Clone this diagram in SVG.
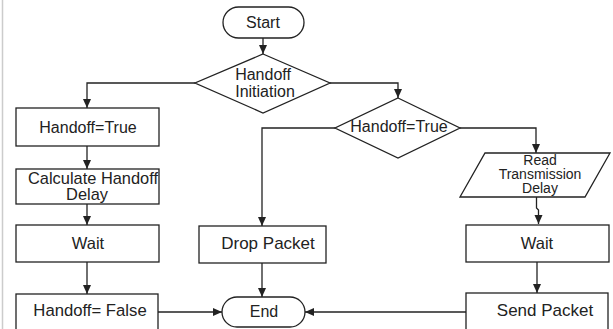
<svg xmlns="http://www.w3.org/2000/svg" width="613" height="329" viewBox="0 0 613 329">
<style>
.n{fill:#fff;stroke:#222;stroke-width:1.3}
.c{fill:none;stroke:#222;stroke-width:1.3}
text{font-family:"Liberation Sans",Arial,sans-serif;fill:#222;text-anchor:middle}
</style>
<defs>
<marker id="a" markerUnits="userSpaceOnUse" markerWidth="9" markerHeight="9" viewBox="0 0 9 9" refX="9" refY="4.5" orient="auto">
<path d="M0,0.5 L9,4.5 L0,8.5 Z" fill="#222"/>
</marker>
</defs>
<rect width="613" height="329" fill="#fff"/>
<line x1="2.5" y1="0" x2="2.5" y2="329" stroke="#ccc" stroke-width="1.5"/>
<g id="connectors">
<path class="c" d="M263,38 V54" marker-end="url(#a)"/>
<path class="c" d="M195,83 H87 V108" marker-end="url(#a)"/>
<path class="c" d="M87,146 V169" marker-end="url(#a)"/>
<path class="c" d="M87,204 V225" marker-end="url(#a)"/>
<path class="c" d="M87,262 V294" marker-end="url(#a)"/>
<path class="c" d="M158,312 H222" marker-end="url(#a)"/>
<path class="c" d="M330,83 H398 V98" marker-end="url(#a)"/>
<path class="c" d="M335,128 H262 V226" marker-end="url(#a)"/>
<path class="c" d="M262,263 V297" marker-end="url(#a)"/>
<path class="c" d="M460,128 H536 V153" marker-end="url(#a)"/>
<path class="c" d="M536.5,197 V208 L538.5,210 V224" marker-end="url(#a)"/>
<path class="c" d="M537,262 V293" marker-end="url(#a)"/>
<path class="c" d="M466,312 H305" marker-end="url(#a)"/>
</g>
<g id="start"><rect class="n" x="223" y="7" width="81" height="31" rx="15.5"/><text x="263" y="28" font-size="16">Start</text></g>
<g id="handoff-initiation"><path class="n" d="M263,54 L330,83 L263,113 L195,83 Z"/><text x="263" y="80" font-size="16">Handoff</text><text x="265" y="97" font-size="16">Initiation</text></g>
<g id="handoff-true-left"><rect class="n" x="16" y="108" width="143" height="38"/><text x="88" y="133" font-size="16">Handoff=True</text></g>
<g id="calc-delay"><rect class="n" x="16" y="169" width="143" height="35"/><text x="93" y="184" font-size="16.4">Calculate Handoff</text><text x="87" y="200" font-size="16.4">Delay</text></g>
<g id="wait-left"><rect class="n" x="16" y="225" width="143" height="37"/><text x="88" y="249" font-size="16.5">Wait</text></g>
<g id="handoff-false"><rect class="n" x="16" y="294" width="142" height="45"/><text x="90" y="316" font-size="16.7">Handoff= False</text></g>
<g id="handoff-true-decision"><path class="n" d="M398,98 L460,128 L398,158 L335,128 Z"/><text x="399" y="132" font-size="16">Handoff=True</text></g>
<g id="drop-packet"><rect class="n" x="199" y="226" width="127" height="37"/><text x="268" y="249" font-size="17">Drop Packet</text></g>
<g id="end"><rect class="n" x="222" y="297" width="83" height="30" rx="15"/><text x="264" y="317" font-size="16">End</text></g>
<g id="read-delay"><path class="n" d="M485,153 L610,153 L585,197 L460,197 Z"/><text x="540" y="165" font-size="14">Read</text><text x="540" y="179" font-size="14">Transmission</text><text x="540" y="193" font-size="14">Delay</text></g>
<g id="wait-right"><rect class="n" x="466" y="225" width="143" height="37"/><text x="537" y="249" font-size="16.5">Wait</text></g>
<g id="send-packet"><rect class="n" x="466" y="293" width="142" height="46"/><text x="545" y="316" font-size="17">Send Packet</text></g>
</svg>
